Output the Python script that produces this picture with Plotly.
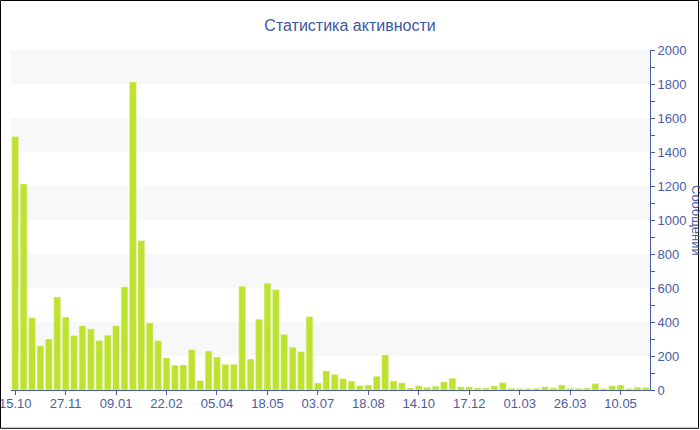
import plotly.graph_objects as go

values = [1490, 1212, 425, 259, 300, 547, 429, 320, 378, 359,
          290, 322, 378, 606, 1812, 878, 394, 290, 188, 145,
          147, 237, 55, 229, 194, 151, 151, 610, 182, 416,
          627, 590, 327, 251, 225, 431, 41, 112, 90, 66,
          53, 25, 29, 80, 206, 53, 41, 12, 24, 16,
          22, 47, 69, 18, 18, 12, 12, 24, 43, 10,
          8, 8, 10, 18, 12, 29, 10, 10, 12, 37,
          8, 24, 29, 8, 16, 14]
tick_labels = ["15.10", "27.11", "09.01", "22.02", "05.04", "18.05", "03.07",
               "18.08", "14.10", "17.12", "01.03", "26.03", "10.05"]
tick_step = 6

x = list(range(len(values)))
tickvals = [i * tick_step for i in range(len(tick_labels))]

W, H = 700, 430
L, R, T, B = 11, 50, 50, 40
pw, ph = W - L - R, H - T - B

blue = "#4a5ca6"
title_blue = "#3e57a0"
FONT = "Liberation Sans"

fig = go.Figure(go.Bar(
    x=x, y=values,
    marker=dict(color="#bde231", line=dict(color="rgba(230,245,170,0.9)", width=0.6)),
    hoverinfo="y",
))

shapes = []
for y0 in range(200, 2000, 400):
    shapes.append(dict(type="rect", xref="paper", yref="y", x0=0, x1=1, y0=y0, y1=y0 + 200,
                       fillcolor="#f8f8f8", line=dict(width=0), layer="below"))
# outer frame
shapes.append(dict(type="rect", xref="paper", yref="paper",
                   x0=(0.5 - L) / pw, x1=(W - 1.5 - L) / pw,
                   y0=-(B - 1.7) / ph, y1=1 + (T - 0.5) / ph,
                   line=dict(color="black", width=1), fillcolor="rgba(0,0,0,0)", layer="above"))

fig.update_layout(
    width=W, height=H,
    margin=dict(l=L, r=R, t=T, b=B, autoexpand=False),
    paper_bgcolor="white", plot_bgcolor="white",
    bargap=0.2,
    showlegend=False,
    font=dict(family=FONT, color=blue, size=13),
    title=dict(text="Статистика активности", x=0.5, xanchor="center", y=1 - 25 / H, yanchor="middle",
               font=dict(family=FONT, size=16, color=title_blue)),
    shapes=shapes,
    xaxis=dict(range=[-0.5, len(values) - 0.5], tickmode="array", tickvals=tickvals, ticktext=tick_labels,
               showgrid=False, zeroline=False, showline=True, linecolor=blue, linewidth=1,
               automargin=False, ticklabeloverflow="allow", ticklabelstandoff=-3,
               ticks="outside", ticklen=4, tickcolor=blue, tickfont=dict(size=13, color=blue)),
    yaxis=dict(range=[0, 2000], side="right", dtick=200, showgrid=False, zeroline=False,
               showline=True, linecolor=blue, linewidth=1, automargin=False,
               ticks="outside", ticklen=4, tickcolor=blue, tickfont=dict(size=13, color=blue),
               minor=dict(dtick=100, ticks="outside", ticklen=4, tickcolor=blue)),
    annotations=[dict(text="Сообщений", xref="paper", yref="paper", x=(697 - L) / pw, y=0.5,
                      textangle=90, showarrow=False, xanchor="center", yanchor="middle",
                      font=dict(size=13, color=blue))],
)

fig.write_html("out.html", config={"displayModeBar": False},
               post_script="document.body.style.margin='0';document.body.style.overflow='hidden';")
